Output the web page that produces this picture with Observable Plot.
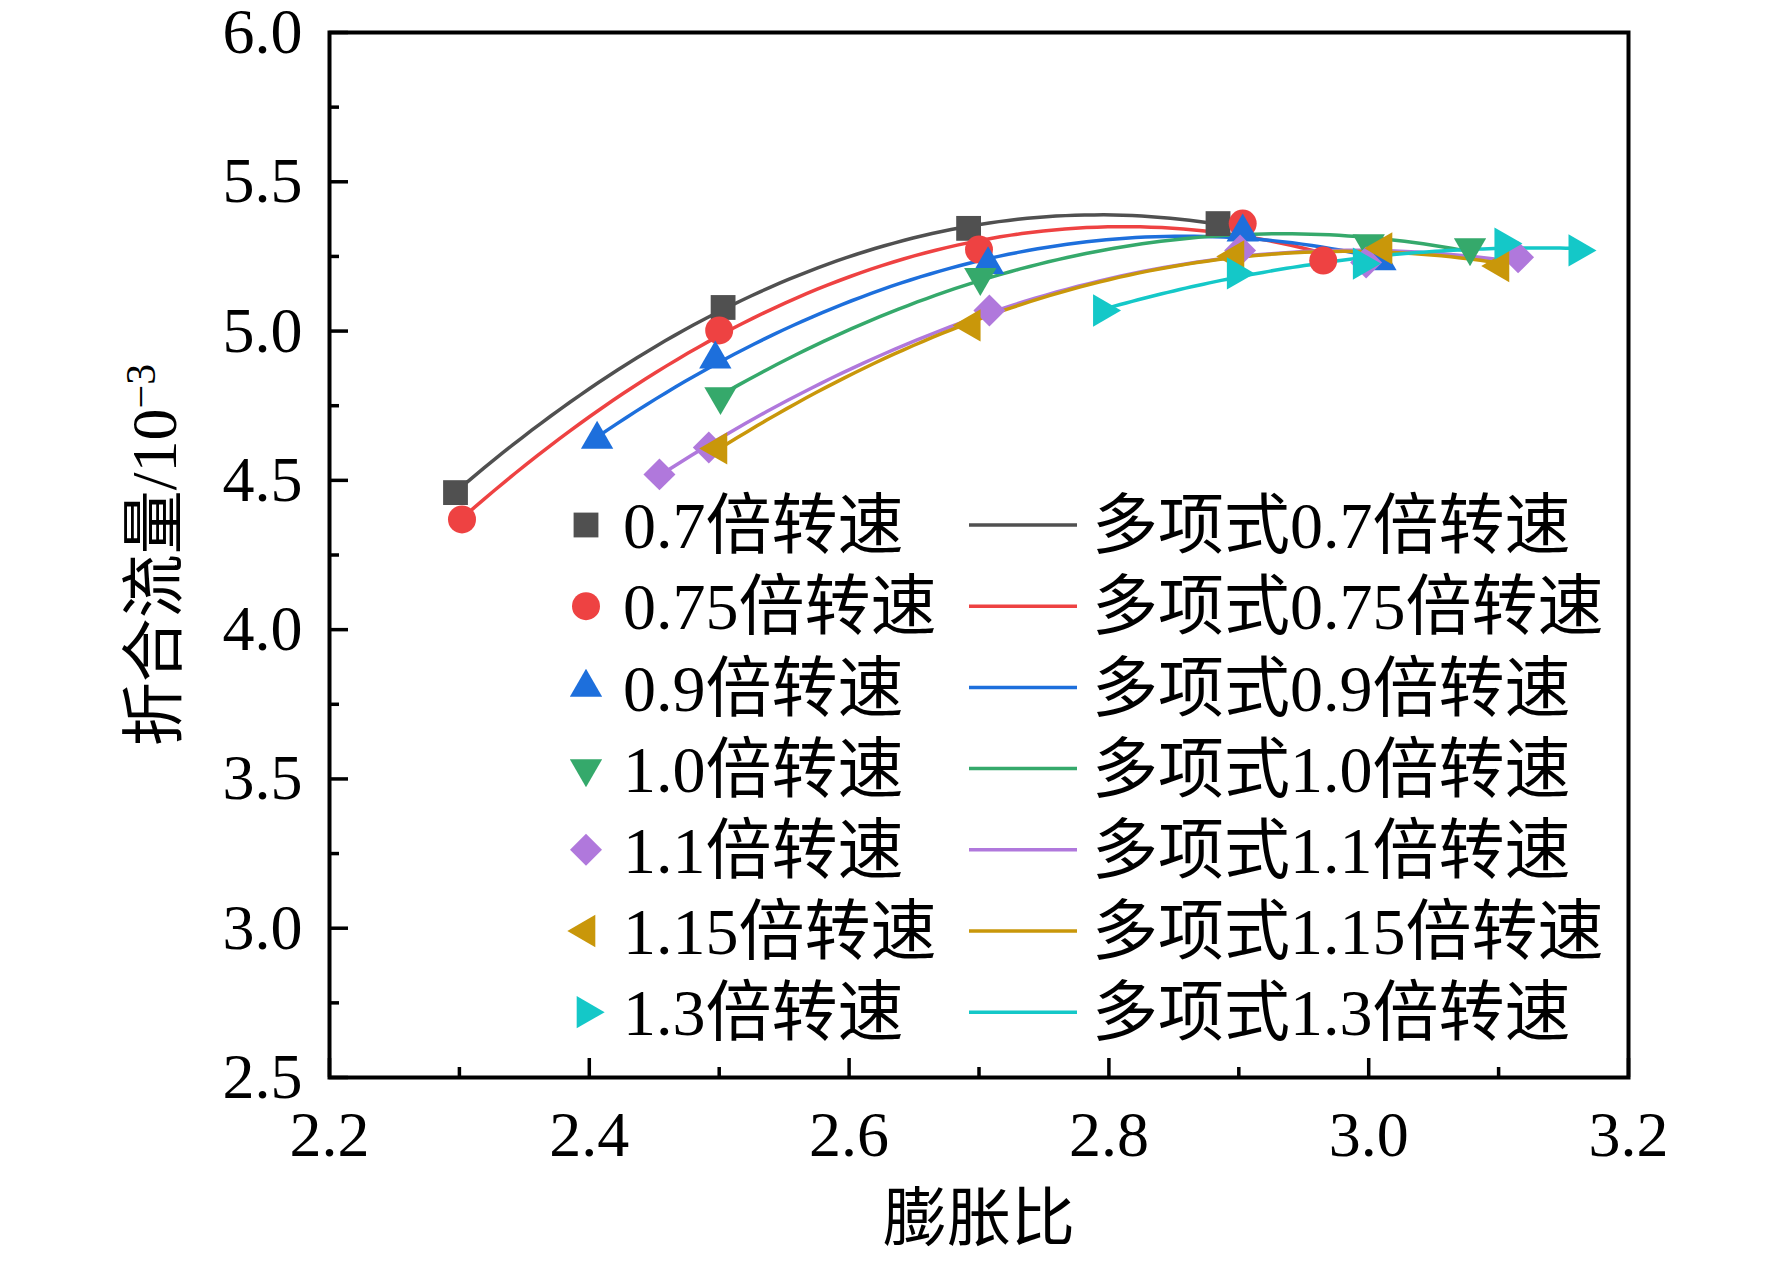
<!DOCTYPE html>
<html>
<head>
<meta charset="utf-8">
<script src="https://cdn.jsdelivr.net/npm/d3@7"></script>
<script src="https://cdn.jsdelivr.net/npm/@observablehq/plot@0.6"></script>
<style>
  html, body { margin: 0; padding: 0; background: #fff; }
  #chart { width: 1772px; height: 1263px; }
</style>
</head>
<body>
<div id="chart"></div>
<script>
// ---------------- data ----------------
const seriesLabels = ["0.7倍转速", "0.75倍转速", "0.9倍转速", "1.0倍转速", "1.1倍转速", "1.15倍转速", "1.3倍转速"];
const fitPrefix = "多项式";

const x07  = [2.297, 2.503, 2.692, 2.884];
const y07  = [4.459, 5.079, 5.344, 5.360];
const x075 = [2.302, 2.500, 2.700, 2.903, 2.965];
const y075 = [4.369, 5.002, 5.273, 5.360, 5.236];
const x09  = [2.406, 2.497, 2.707, 2.903, 3.009];
const y09  = [4.637, 4.906, 5.222, 5.331, 5.235];
const x10  = [2.501, 2.701, 3.000, 3.078];
const y10  = [4.781, 5.180, 5.293, 5.280];
const x11  = [2.454, 2.492, 2.708, 2.901, 2.998, 3.115];
const y11  = [4.520, 4.610, 5.069, 5.270, 5.230, 5.247];
const x115 = [2.499, 2.694, 2.897, 3.011, 3.101];
const y115 = [4.607, 5.019, 5.250, 5.277, 5.218];
const x13  = [2.795, 2.898, 2.995, 3.104, 3.161];
const y13  = [5.069, 5.193, 5.226, 5.293, 5.270];

const xTicks = [2.2, 2.4, 2.6, 2.8, 3.0, 3.2];
const xMinorTicks = [2.3, 2.5, 2.7, 2.9, 3.1];
const yTicks = [2.5, 3.0, 3.5, 4.0, 4.5, 5.0, 5.5, 6.0];
const yMinorTicks = [2.75, 3.25, 3.75, 4.25, 4.75, 5.25, 5.75];
const xTitle = "膨胀比";
const yTitle = "折合流量/10";
const yTitleSup = "−3";

// ---------------- styles ----------------
const colors = ["#505050", "#ee4242", "#1d6fdc", "#35a96b", "#b078dc", "#c9970a", "#14c8c8"];
const symbols = ["square", "circle", "triangle", "triangle", "diamond2", "triangle", "triangle"];
const d3symbols = [d3.symbolSquare, d3.symbolCircle, d3.symbolTriangle, d3.symbolTriangle, d3.symbolDiamond2, d3.symbolTriangle, d3.symbolTriangle];
const rotations = [0, 0, 0, 180, 0, -90, 90];
const radii = [14, 14, 12, 12, 14.4, 12, 12];
const fontFamily = "'Liberation Serif', 'Noto Sans CJK SC', serif";

const xsList = [x07, x075, x09, x10, x11, x115, x13];
const ysList = [y07, y075, y09, y10, y11, y115, y13];

const series = seriesLabels.map((name, i) => ({
  name,
  points: xsList[i].map((x, j) => ({x, y: ysList[i][j]}))
}));

// quadratic least-squares fit (the chart's "多项式" curves)
function fitQuad(xs, ys) {
  const mx = d3.mean(xs);
  const S = [[0,0,0],[0,0,0],[0,0,0]], T = [0,0,0];
  xs.forEach((x, i) => {
    const u = x - mx, p = [1, u, u*u];
    for (let a = 0; a < 3; a++) {
      T[a] += p[a] * ys[i];
      for (let b = 0; b < 3; b++) S[a][b] += p[a] * p[b];
    }
  });
  const M = S.map((row, a) => [...row, T[a]]);
  for (let c = 0; c < 3; c++) {
    let piv = c;
    for (let r = c + 1; r < 3; r++) if (Math.abs(M[r][c]) > Math.abs(M[piv][c])) piv = r;
    [M[c], M[piv]] = [M[piv], M[c]];
    for (let r = 0; r < 3; r++) if (r !== c) {
      const f = M[r][c] / M[c][c];
      for (let k = c; k < 4; k++) M[r][k] -= f * M[c][k];
    }
  }
  const coef = M.map((row, a) => row[3] / row[a]);
  return x => coef[0] + coef[1] * (x - mx) + coef[2] * (x - mx) ** 2;
}

const fits = series.map((s, i) => {
  const f = fitQuad(xsList[i], ysList[i]);
  const [lo, hi] = d3.extent(xsList[i]);
  return d3.range(0, 81).map(k => {
    const x = lo + (hi - lo) * k / 80;
    return {x, y: f(x)};
  });
});

// ---------------- plot ----------------
const marks = [];
fits.forEach((pts, i) => {
  marks.push(Plot.line(pts, {x: "x", y: "y", stroke: colors[i], strokeWidth: 3.5}));
});
series.forEach((s, i) => {
  marks.push(Plot.dot(s.points, {
    x: "x", y: "y", symbol: symbols[i], r: radii[i],
    fill: colors[i], stroke: null, rotate: rotations[i]
  }));
});

marks.push(
  Plot.frame({stroke: "black", strokeWidth: 4}),
  Plot.axisX({ticks: xTicks, tickSize: -19, tickPadding: 52, tickFormat: d3.format(".1f"),
              fontSize: 64, label: null, strokeWidth: 3.5, fill: "black"}),
  Plot.axisX({ticks: xMinorTicks, tickSize: -10, tickFormat: () => "", label: null, strokeWidth: 3.5}),
  Plot.axisY({ticks: yTicks, tickSize: -19, tickPadding: 46, tickFormat: d3.format(".1f"),
              fontSize: 64, label: null, strokeWidth: 3.5, fill: "black"}),
  Plot.axisY({ticks: yMinorTicks, tickSize: -10, tickFormat: () => "", label: null, strokeWidth: 3.5}),
  Plot.text([xTitle], {frameAnchor: "bottom", dy: 142, lineAnchor: "middle", textAnchor: "middle",
                       fontSize: 64, fill: "black"}),
  Plot.text([yTitle], {frameAnchor: "left", dx: -174, rotate: -90, lineAnchor: "middle", textAnchor: "middle",
                       fontSize: 64, fill: "black", className: "ytitle"})
);

const chart = Plot.plot({
  width: 1772,
  height: 1263,
  marginLeft: 329,
  marginRight: 144,
  marginTop: 32,
  marginBottom: 186,
  x: {domain: [2.2, 3.2]},
  y: {domain: [2.5, 6.0]},
  style: {fontFamily, background: "white", color: "black", overflow: "visible"},
  marks
});

document.getElementById("chart").appendChild(chart);

// superscript on y title
const svg = d3.select(chart.tagName.toLowerCase() === "svg" ? chart : chart.querySelector("svg"));
svg.select("g.ytitle text").append("tspan")
  .attr("dy", "-0.5em").attr("font-size", 42).text(yTitleSup);

// ---------------- legend (inside plot area) ----------------
const leg = svg.append("g")
  .attr("font-family", fontFamily).attr("font-size", 66).attr("fill", "black")
  .attr("text-anchor", "start");
const rowY0 = 525, rowStep = 81.2;
seriesLabels.forEach((name, i) => {
  const y = rowY0 + i * rowStep;
  leg.append("path")
    .attr("d", d3.symbol(d3symbols[i], Math.PI * radii[i] * radii[i])())
    .attr("transform", `translate(586,${y}) rotate(${rotations[i]})`)
    .attr("fill", colors[i]);
  leg.append("text").attr("x", 623).attr("y", y).attr("dy", "0.35em").text(name);
  leg.append("line").attr("x1", 969).attr("x2", 1077).attr("y1", y).attr("y2", y)
    .attr("stroke", colors[i]).attr("stroke-width", 3.5);
  leg.append("text").attr("x", 1092).attr("y", y).attr("dy", "0.35em").text(fitPrefix + name);
});
</script>
</body>
</html>
